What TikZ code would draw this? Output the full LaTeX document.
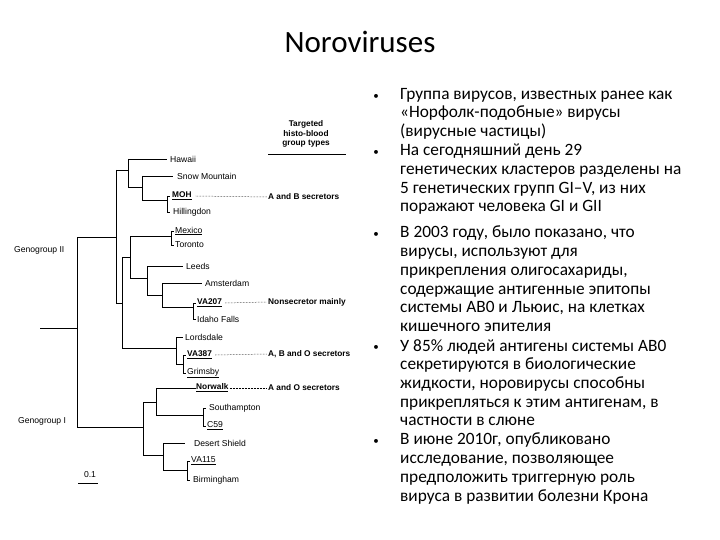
\documentclass[tikz,border=0pt]{standalone}
\usepackage{fontspec}
\setmainfont{Carlito}
\newfontfamily\treefont{Liberation Sans}
\begin{document}
\begin{tikzpicture}[x=1pt,y=-1pt,
  br/.style={line width=0.8pt},
  lf/.style={font=\treefont\fontsize{8.6}{9}\selectfont,anchor=west,inner sep=1pt},
  ul/.style={lf,font=\treefont\bfseries\fontsize{8.3}{9}\selectfont},
  ty/.style={font=\treefont\bfseries\fontsize{8.3}{9}\selectfont,anchor=west,inner sep=1pt},
  dl/.style={densely dotted,line width=0.5pt},
  bt/.style={font=\fontsize{17.3}{18.7}\selectfont,anchor=north west,align=left,inner sep=0pt},
  bu/.style={font=\fontsize{11}{12}\selectfont,inner sep=0pt}]
\useasboundingbox (0,0) rectangle (720,540);
\node (title) at (360,42) {\fontsize{31}{34}\selectfont Noroviruses};
% tree branches
\draw[br] (40,328) -- (77,328);
\draw[br] (77,237) -- (77,427);
\draw[br] (77,237) -- (116,237) (116,170) -- (116,303);
\draw[br] (116,170) -- (128,170) (128,159) -- (128,187);
\draw[br] (128,159) -- (167,159);
\draw[br] (128,187) -- (142,187) (142,176) -- (142,200);
\draw[br] (142,176) -- (173,176);
\draw[br] (142,200) -- (167,200) (167,196) -- (167,212);
\draw[br] (167,196) -- (170,196) (167,212) -- (170,212);
\draw[br] (116,303) -- (122,303) (122,257) -- (122,348);
\draw[br] (122,257) -- (130,257) (130,236) -- (130,278);
\draw[br] (130,236) -- (171,236) (171,231) -- (171,245);
\draw[br] (171,231) -- (174,231) (171,245) -- (174,245);
\draw[br] (130,278) -- (147,278) (147,266) -- (147,295);
\draw[br] (147,266) -- (183,266);
\draw[br] (147,295) -- (162,295) (162,283) -- (162,307);
\draw[br] (162,283) -- (202,283);
\draw[br] (162,307) -- (193,307) (193,303) -- (193,319);
\draw[br] (193,303) -- (196,303) (193,319) -- (196,319);
\draw[br] (122,348) -- (176,348) (176,337) -- (176,364);
\draw[br] (176,337) -- (183,337);
\draw[br] (176,364) -- (183,364) (183,355) -- (183,373);
\draw[br] (183,355) -- (186,355) (183,373) -- (186,373);
\draw[br] (77,427) -- (143,427) (143,402) -- (143,455);
\draw[br] (143,402) -- (156,402) (156,388) -- (156,415);
\draw[br] (156,388) -- (196,388);
\draw[br] (156,415) -- (203,415) (203,408) -- (203,426);
\draw[br] (203,408) -- (206,408) (203,426) -- (206,426);
\draw[br] (143,455) -- (163,455) (163,443) -- (163,470);
\draw[br] (163,443) -- (185,443);
\draw[br] (163,470) -- (187,470) (187,461) -- (187,480);
\draw[br] (187,461) -- (190,461) (187,480) -- (190,480);
% leaves
\node[lf] (haw) at (169,159) {Hawaii};
\node[lf] (snow) at (176,176) {Snow Mountain};
\node[ul] (moh) at (171,196) {\underline{MOH}};
\node[lf] (hil) at (172,212) {Hillingdon};
\node[lf] (mex) at (174,231) {\underline{Mexico}};
\node[lf] (tor) at (174,245) {Toronto};
\node[lf] (lee) at (185,266) {Leeds};
\node[lf] (ams) at (204,283) {Amsterdam};
\node[ul] (va207) at (196,303) {\underline{VA207}};
\node[lf] (ida) at (196,319) {Idaho Falls};
\node[lf] (lor) at (184,337) {Lordsdale};
\node[ul] (va387) at (186,355) {\underline{VA387}};
\node[lf] (gri) at (186,373) {\underline{Grimsby}};
\node[ul] (nor) at (195,388) {\underline{Norwalk}};
\node[lf] (sou) at (208,408) {Southampton};
\node[lf] (c59) at (206,426) {\underline{C59}};
\node[lf] (des) at (193,443) {Desert Shield};
\node[lf] (va115) at (190,461) {\underline{VA115}};
\node[lf] (bir) at (192,480) {Birmingham};
\node[lf] (g2) at (13,250) {Genogroup II};
\node[lf] (g1) at (17,421) {Genogroup I};
\node[font=\treefont\fontsize{8.6}{9}\selectfont] (sc) at (90,475) {0.1};
\draw[br] (78,483) -- (98,483);
% types
\node[font=\treefont\bfseries\fontsize{8.3}{9.5}\selectfont,align=center] (hdr) at (306,134) {Targeted\\histo-blood\\group types};
\draw[br] (268,154) -- (346,154);
\node[ty] (t1) at (267,197) {A and B secretors};
\node[ty] (t2) at (267,302) {Nonsecretor mainly};
\node[ty] (t3) at (267,354) {A, B and O secretors};
\node[ty] (t4) at (267,388) {A and O secretors};
\draw[dl] (moh.east) ++(3,0) -- (t1.west);
\draw[dl] (va207.east) ++(2,0) -- (t2.west);
\draw[dl] (va387.east) ++(2,0) -- (t3.west);
\draw[dl] (nor.east) -- (t4.west);
% bullets
\foreach \y in {97,153,235,348,442} \node[bu] at (376,\y) {•};
\node[bt] (b1) at (400,88) {Группа вирусов, известных ранее как\\«Норфолк-подобные» вирусы\\(вирусные частицы)};
\node[bt] (b2) at (400,144) {На сегодняшний день 29\\генетических кластеров разделены на\\5 генетических групп GI–V, из них\\поражают человека GI и GII};
\node[bt] (b3) at (400,226) {В 2003 году, было показано, что\\вирусы, используют для\\прикрепления олигосахариды,\\содержащие антигенные эпитопы\\системы АВ0 и Льюис, на клетках\\кишечного эпителия};
\node[bt] (b4) at (400,339) {У 85\% людей антигены системы АВ0\\секретируются в биологические\\жидкости, норовирусы способны\\прикрепляться к этим антигенам, в\\частности в слюне};
\node[bt] (b5) at (400,433) {В июне 2010г, опубликовано\\исследование, позволяющее\\предположить триггерную роль\\вируса в развитии болезни Крона};
\end{tikzpicture}
\end{document}
